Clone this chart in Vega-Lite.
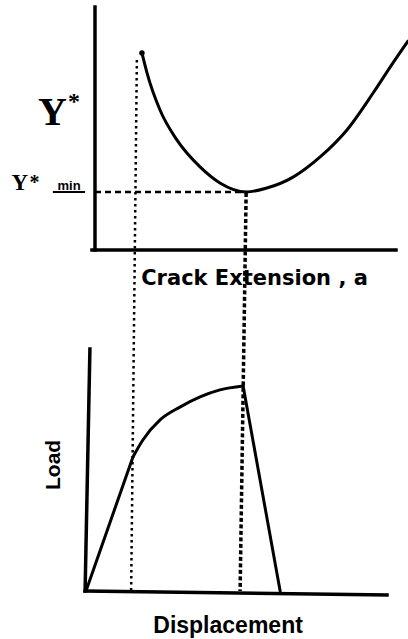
{
  "$schema": "https://vega.github.io/schema/vega-lite/v6.json",
  "width": 408,
  "height": 639,
  "autosize": {"type": "fit", "contains": "padding"},
  "padding": 0,
  "background": "white",
  "config": {"view": {"stroke": null}},
  "datasets": {
    "yAxes": [
      {"a": 0, "Y": 0, "a2": 0, "Y2": 10},
      {"a": -0.1, "Y": 0, "a2": 10.0, "Y2": 0}
    ],
    "yStar": [
      {"a": 1.56, "Y": 8.11},
      {"a": 1.73, "Y": 7.28},
      {"a": 2.16, "Y": 5.76},
      {"a": 2.72, "Y": 4.53},
      {"a": 3.49, "Y": 3.42},
      {"a": 4.15, "Y": 2.76},
      {"a": 5.02, "Y": 2.39},
      {"a": 5.71, "Y": 2.55},
      {"a": 6.58, "Y": 3.0},
      {"a": 7.48, "Y": 3.83},
      {"a": 8.37, "Y": 4.94},
      {"a": 9.24, "Y": 6.46},
      {"a": 9.9, "Y": 7.7},
      {"a": 10.4, "Y": 8.6}
    ],
    "yStart": [{"a": 1.56, "Y": 8.11}],
    "yMinGuide": [{"a": 0, "Y": 2.39, "a2": 5.02, "Y2": 2.39}],
    "minUnderline": [{"a": -1.4, "Y": 2.39, "a2": -0.33, "Y2": 2.39}],
    "bigY": [{"a": -1.41, "Y": 5.14, "label": "Y"}],
    "bigStar": [{"a": -0.7, "Y": 5.8, "label": "*"}],
    "smallY": [{"a": -2.5, "Y": 2.47, "label": "Y"}],
    "smallStar": [{"a": -2.01, "Y": 2.53, "label": "*"}],
    "minText": [{"a": -0.86, "Y": 2.47, "label": "min"}],
    "aTitle": [{"a": 5.3, "Y": -1.44, "label": "Crack Extension , a"}],
    "ldAxes": [
      {"d": 0.13, "load": 10, "d2": -0.03, "load2": 0},
      {"d": -0.03, "load": 0, "d2": 10.0, "load2": -0.16}
    ],
    "straight": [
      {"d": 0, "load": 0, "d2": 1.56, "load2": 5.54},
      {"d": 5.22, "load": 8.47, "d2": 6.45, "load2": 0}
    ],
    "plastic": [
      {"d": 1.56, "load": 5.54},
      {"d": 1.89, "load": 6.24},
      {"d": 2.46, "load": 7.07},
      {"d": 3.12, "load": 7.6},
      {"d": 3.79, "load": 8.02},
      {"d": 4.45, "load": 8.31},
      {"d": 5.22, "load": 8.47}
    ],
    "initLink": [{"d": 1.69, "load": 21.94, "d2": 1.5, "load2": 0}],
    "maxLink": [{"d": 5.32, "load": 16.45, "d2": 5.12, "load2": 0}],
    "loadTitle": [{"d": -1.06, "load": 5.21, "label": "Load"}],
    "dTitle": [{"d": 4.72, "load": -1.74, "label": "Displacement"}]
  },
  "layer": [
    {
      "encoding": {
        "x": {"field": "a", "type": "quantitative", "axis": null, "scale": {"domain": [-3.156, 10.399], "nice": false, "zero": false}},
        "y": {"field": "Y", "type": "quantitative", "axis": null, "scale": {"domain": [-16.008, 10.288], "nice": false, "zero": false}}
      },
      "layer": [
        {
          "data": {"name": "yAxes"},
          "mark": {"type": "rule", "color": "black", "strokeWidth": 3.5, "strokeCap": "square"},
          "encoding": {"x2": {"field": "a2"}, "y2": {"field": "Y2"}}
        },
        {
          "data": {"name": "yMinGuide"},
          "mark": {"type": "rule", "color": "black", "strokeWidth": 2.5, "strokeDash": [6, 4]},
          "encoding": {"x2": {"field": "a2"}, "y2": {"field": "Y2"}}
        },
        {
          "data": {"name": "minUnderline"},
          "mark": {"type": "rule", "color": "black", "strokeWidth": 2},
          "encoding": {"x2": {"field": "a2"}, "y2": {"field": "Y2"}}
        },
        {
          "data": {"name": "yStar"},
          "mark": {"type": "line", "color": "black", "strokeWidth": 3, "interpolate": "monotone", "strokeCap": "round", "clip": true},
          "encoding": {"order": {"field": "a"}}
        },
        {
          "data": {"name": "yStart"},
          "mark": {"type": "point", "filled": true, "color": "black", "size": 30, "opacity": 1},
          "encoding": {}
        },
        {
          "data": {"name": "bigY"},
          "mark": {"type": "text", "font": "Liberation Serif", "fontWeight": "bold", "fontSize": 40, "align": "center", "baseline": "alphabetic", "color": "black"},
          "encoding": {"text": {"field": "label"}}
        },
        {
          "data": {"name": "bigStar"},
          "mark": {"type": "text", "font": "Liberation Serif", "fontWeight": "bold", "fontSize": 24, "align": "center", "baseline": "alphabetic", "color": "black"},
          "encoding": {"text": {"field": "label"}}
        },
        {
          "data": {"name": "smallY"},
          "mark": {"type": "text", "font": "Liberation Serif", "fontWeight": "bold", "fontSize": 23, "align": "center", "baseline": "alphabetic", "color": "black"},
          "encoding": {"text": {"field": "label"}}
        },
        {
          "data": {"name": "smallStar"},
          "mark": {"type": "text", "font": "Liberation Serif", "fontWeight": "bold", "fontSize": 20, "align": "center", "baseline": "alphabetic", "color": "black"},
          "encoding": {"text": {"field": "label"}}
        },
        {
          "data": {"name": "minText"},
          "mark": {"type": "text", "font": "Liberation Sans", "fontWeight": "bold", "fontSize": 13, "align": "center", "baseline": "alphabetic", "color": "black"},
          "encoding": {"text": {"field": "label"}}
        },
        {
          "data": {"name": "aTitle"},
          "mark": {"type": "text", "font": "DejaVu Sans", "fontWeight": "bold", "fontSize": 21, "align": "center", "baseline": "alphabetic", "color": "black"},
          "encoding": {"text": {"field": "label"}}
        }
      ]
    },
    {
      "encoding": {
        "x": {"field": "d", "type": "quantitative", "axis": null, "scale": {"domain": [-2.857, 10.698], "nice": false, "zero": false}},
        "y": {"field": "load", "type": "quantitative", "axis": null, "scale": {"domain": [-1.983, 24.421], "nice": false, "zero": false}}
      },
      "layer": [
        {
          "data": {"name": "ldAxes"},
          "mark": {"type": "rule", "color": "black", "strokeWidth": 3.5, "strokeCap": "square"},
          "encoding": {"x2": {"field": "d2"}, "y2": {"field": "load2"}}
        },
        {
          "data": {"name": "initLink"},
          "mark": {"type": "rule", "color": "black", "strokeWidth": 2.5, "strokeDash": [2.5, 3.5]},
          "encoding": {"x2": {"field": "d2"}, "y2": {"field": "load2"}}
        },
        {
          "data": {"name": "maxLink"},
          "mark": {"type": "rule", "color": "black", "strokeWidth": 3.5, "strokeDash": [4, 2.5]},
          "encoding": {"x2": {"field": "d2"}, "y2": {"field": "load2"}}
        },
        {
          "data": {"name": "straight"},
          "mark": {"type": "rule", "color": "black", "strokeWidth": 3, "strokeCap": "round"},
          "encoding": {"x2": {"field": "d2"}, "y2": {"field": "load2"}}
        },
        {
          "data": {"name": "plastic"},
          "mark": {"type": "line", "color": "black", "strokeWidth": 3, "interpolate": "monotone", "strokeCap": "round"},
          "encoding": {"order": {"field": "d"}}
        },
        {
          "data": {"name": "loadTitle"},
          "mark": {"type": "text", "font": "Liberation Sans", "fontWeight": "bold", "fontSize": 21, "angle": 270, "align": "center", "baseline": "middle", "color": "black"},
          "encoding": {"text": {"field": "label"}}
        },
        {
          "data": {"name": "dTitle"},
          "mark": {"type": "text", "font": "Liberation Sans", "fontWeight": "bold", "fontSize": 23, "align": "center", "baseline": "alphabetic", "color": "black"},
          "encoding": {"text": {"field": "label"}}
        }
      ]
    }
  ],
  "resolve": {"scale": {"x": "independent", "y": "independent"}}
}
